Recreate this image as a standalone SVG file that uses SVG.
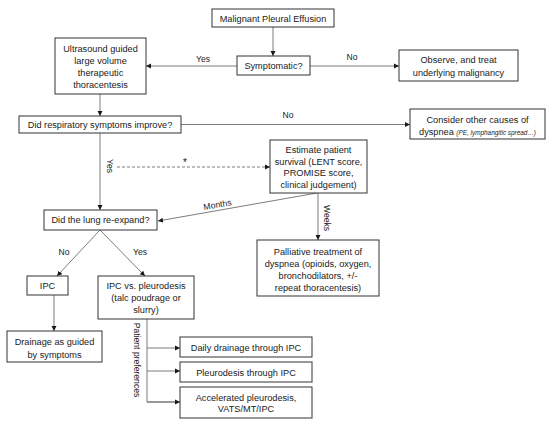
<svg xmlns="http://www.w3.org/2000/svg" width="550" height="425" viewBox="0 0 550 425">
<defs>
<marker id="ah" markerWidth="6" markerHeight="6" refX="5" refY="3" orient="auto" markerUnits="userSpaceOnUse">
<path d="M0,0.5 L5,3 L0,5.5 Z" fill="#1a1a1a"/>
</marker>
<style>
text{font-family:"Liberation Sans",Arial,sans-serif;font-size:9.2px;fill:#1a1a1a;text-anchor:middle}
.box{fill:#fff;stroke:#333;stroke-width:1}
.c{fill:none;stroke:#6e6e6e;stroke-width:0.9}
.a{marker-end:url(#ah)}
.d{stroke-dasharray:3,2}
.lab{font-size:8.6px}
.it{font-style:italic;font-size:6.4px}
</style>
</defs>
<rect width="550" height="425" fill="#fff"/>
<g id="connectors">
<line class="c a" x1="273" y1="27" x2="273" y2="56"/>
<line class="c a" x1="237" y1="66" x2="146" y2="66"/>
<text class="lab" x="203" y="62">Yes</text>
<line class="c a" x1="310" y1="66" x2="399" y2="66"/>
<text class="lab" x="352" y="60">No</text>
<line class="c a" x1="100" y1="94" x2="100" y2="116"/>
<line class="c a" x1="181" y1="124.5" x2="410" y2="124.5"/>
<text class="lab" x="288" y="118">No</text>
<line class="c a" x1="100" y1="133" x2="100" y2="210"/>
<text class="lab" transform="translate(107,166) rotate(90)">Yes</text>
<line class="c a d" x1="117" y1="167" x2="270" y2="167"/>
<text class="lab" x="185" y="166" style="font-size:10px">*</text>
<line class="c a" x1="317" y1="193" x2="158" y2="221"/>
<text class="lab" transform="translate(218,207.5) rotate(-10)">Months</text>
<line class="c a" x1="318" y1="193" x2="318" y2="240"/>
<text class="lab" transform="translate(324,218) rotate(90)">Weeks</text>
<line class="c a" x1="100" y1="230" x2="57" y2="276"/>
<text class="lab" x="64" y="255">No</text>
<line class="c a" x1="100" y1="230" x2="145" y2="276"/>
<text class="lab" x="140" y="255">Yes</text>
<line class="c a" x1="54" y1="295" x2="54" y2="331"/>
<polyline class="c" points="147,319 147,402 180,402"/>
<line class="c a" x1="147" y1="348" x2="180" y2="348"/>
<line class="c a" x1="147" y1="371" x2="180" y2="371"/>
<line class="c a" x1="147" y1="402" x2="180" y2="402"/>
<text class="lab" transform="translate(134,360) rotate(90)">Patient preferences</text>
</g>
<g id="n1"><rect class="box" x="212" y="9" width="122" height="18"/><text x="273" y="21.5">Malignant Pleural Effusion</text></g>
<g id="n2"><rect class="box" x="237" y="56" width="73" height="19"/><text x="273.5" y="69">Symptomatic?</text></g>
<g id="n3"><rect class="box" x="55" y="38" width="91" height="56"/>
<text x="100.5" y="51.5">Ultrasound guided</text><text x="100.5" y="63.5">large volume</text><text x="100.5" y="75.5">therapeutic</text><text x="100.5" y="87.5">thoracentesis</text></g>
<g id="n4"><rect class="box" x="399" y="50" width="119" height="31"/>
<text x="458.5" y="62.5">Observe, and treat</text><text x="458.5" y="75.5">underlying malignancy</text></g>
<g id="n5"><rect class="box" x="19" y="116" width="162" height="17"/><text x="100" y="128">Did respiratory symptoms improve?</text></g>
<g id="n6"><rect class="box" x="410" y="109" width="135" height="30"/>
<text x="477.5" y="123">Consider other causes of</text><text x="477.5" y="134.5">dyspnea <tspan class="it">(PE, lymphangitic spread…)</tspan></text></g>
<g id="n7"><rect class="box" x="270" y="140" width="97" height="53"/>
<text x="318.5" y="153">Estimate patient</text><text x="318.5" y="164.5">survival (LENT score,</text><text x="318.5" y="176">PROMISE score,</text><text x="318.5" y="187.5">clinical judgement)</text></g>
<g id="n8"><rect class="box" x="44" y="210" width="113" height="20"/><text x="100.5" y="223">Did the lung re-expand?</text></g>
<g id="n9"><rect class="box" x="257" y="240" width="122" height="56"/>
<text x="318" y="255">Palliative treatment of</text><text x="318" y="267">dyspnea (opioids, oxygen,</text><text x="318" y="279">bronchodilators, +/-</text><text x="318" y="290.5">repeat thoracentesis)</text></g>
<g id="n10"><rect class="box" x="27" y="276" width="41" height="19"/><text x="47.5" y="289">IPC</text></g>
<g id="n11"><rect class="box" x="98" y="276" width="96" height="43"/>
<text x="146" y="288.5">IPC vs. pleurodesis</text><text x="146" y="300.5">(talc poudrage or</text><text x="146" y="312.5">slurry)</text></g>
<g id="n12"><rect class="box" x="7" y="331" width="95" height="31"/>
<text x="54.5" y="345">Drainage as guided</text><text x="54.5" y="357.5">by symptoms</text></g>
<g id="n13"><rect class="box" x="180" y="337" width="132" height="20"/><text x="246" y="350.5">Daily drainage through IPC</text></g>
<g id="n14"><rect class="box" x="180" y="362" width="132" height="20"/><text x="246" y="375.5">Pleurodesis through IPC</text></g>
<g id="n15"><rect class="box" x="180" y="387" width="132" height="31"/>
<text x="246" y="400.5">Accelerated pleurodesis,</text><text x="246" y="412">VATS/MT/IPC</text></g>
</svg>
